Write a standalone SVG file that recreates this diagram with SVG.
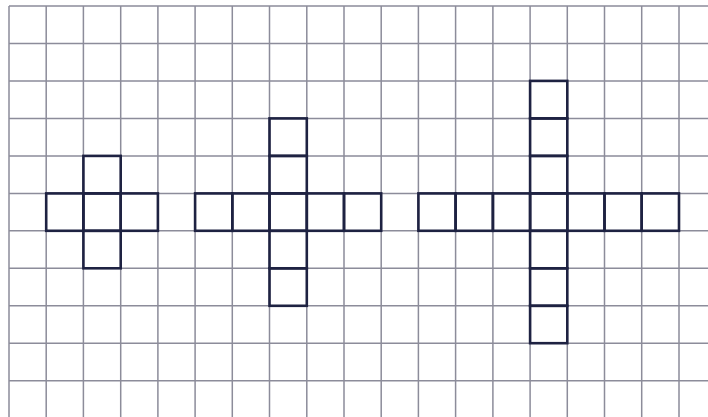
<svg xmlns="http://www.w3.org/2000/svg" width="708" height="417" viewBox="0 0 708 417">
<style>
.grid{stroke:#8c8c9a;stroke-width:1.5;fill:none}
.cell{fill:none;stroke:#1e2242;stroke-width:2.6;stroke-linejoin:miter}
</style>
<rect width="708" height="417" fill="#ffffff"/>
<g id="grid" class="grid">
<path d="M9,6V417M46.2,6V417M83.4,6V417M120.7,6V417M157.9,6V417M195.1,6V417M232.3,6V417M269.5,6V417M306.8,6V417M344,6V417M381.2,6V417M418.4,6V417M455.6,6V417M492.9,6V417M530.1,6V417M567.3,6V417M604.5,6V417M641.7,6V417M679,6V417"/>
<path d="M9,6H708M9,43.5H708M9,80.9H708M9,118.4H708M9,155.9H708M9,193.4H708M9,230.8H708M9,268.3H708M9,305.8H708M9,343.2H708M9,380.7H708"/>
</g>
<g id="cross1" class="cell">
<rect x="46.2" y="193.4" width="37.2" height="37.4"/>
<rect x="83.4" y="193.4" width="37.3" height="37.4"/>
<rect x="120.7" y="193.4" width="37.2" height="37.4"/>
<rect x="83.4" y="155.9" width="37.3" height="37.5"/>
<rect x="83.4" y="230.8" width="37.3" height="37.5"/>
</g>
<g id="cross2" class="cell">
<rect x="195.1" y="193.4" width="37.2" height="37.4"/>
<rect x="232.3" y="193.4" width="37.2" height="37.4"/>
<rect x="269.5" y="193.4" width="37.3" height="37.4"/>
<rect x="306.8" y="193.4" width="37.2" height="37.4"/>
<rect x="344" y="193.4" width="37.2" height="37.4"/>
<rect x="269.5" y="118.4" width="37.3" height="37.5"/>
<rect x="269.5" y="155.9" width="37.3" height="37.5"/>
<rect x="269.5" y="230.8" width="37.3" height="37.5"/>
<rect x="269.5" y="268.3" width="37.3" height="37.5"/>
</g>
<g id="cross3" class="cell">
<rect x="418.4" y="193.4" width="37.2" height="37.4"/>
<rect x="455.6" y="193.4" width="37.3" height="37.4"/>
<rect x="492.9" y="193.4" width="37.2" height="37.4"/>
<rect x="530.1" y="193.4" width="37.2" height="37.4"/>
<rect x="567.3" y="193.4" width="37.2" height="37.4"/>
<rect x="604.5" y="193.4" width="37.2" height="37.4"/>
<rect x="641.7" y="193.4" width="37.3" height="37.4"/>
<rect x="530.1" y="80.9" width="37.2" height="37.5"/>
<rect x="530.1" y="118.4" width="37.2" height="37.5"/>
<rect x="530.1" y="155.9" width="37.2" height="37.5"/>
<rect x="530.1" y="230.8" width="37.2" height="37.5"/>
<rect x="530.1" y="268.3" width="37.2" height="37.5"/>
<rect x="530.1" y="305.8" width="37.2" height="37.4"/>
</g>
</svg>
